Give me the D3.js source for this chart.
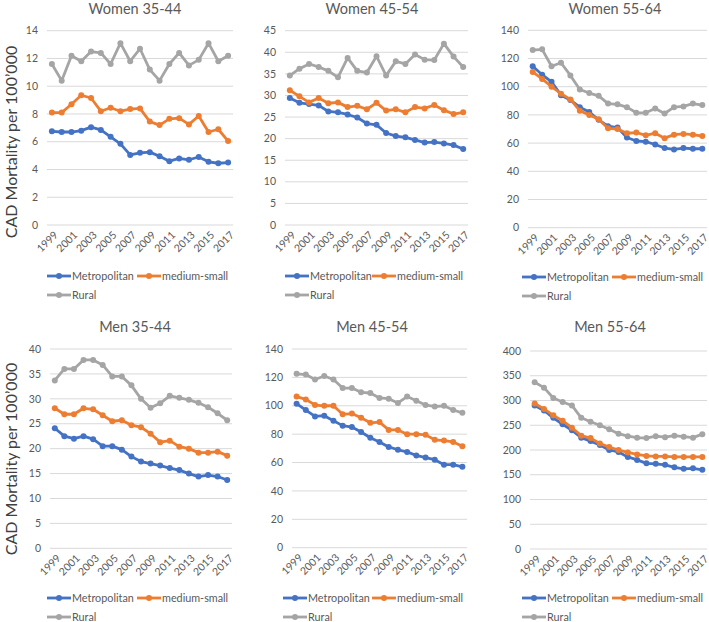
<!DOCTYPE html>
<html>
<head>
<meta charset="utf-8">
<script src="https://cdn.jsdelivr.net/npm/d3@7"></script>
<style>
  body { margin: 0; background: #fff; }
  svg { display: block; font-family: Lato, "Open Sans", sans-serif; }
</style>
</head>
<body>
<svg id="chart" width="709" height="622"></svg>
<script>
// ---------- DATA ----------
const years = d3.range(1999, 2018).map(String);
const yearTickLabels = ["1999","2001","2003","2005","2007","2009","2011","2013","2015","2017"];
const seriesNames = ["Metropolitan", "medium-small", "Rural"];
const panelTitles = ["Women 35-44", "Women 45-54", "Women 55-64", "Men 35-44", "Men 45-54", "Men 55-64"];
const yAxisTitle = "CAD Mortality  per 100’000";

const w3544Metro = [6.75,6.7,6.7,6.8,7.05,6.85,6.35,5.85,5.05,5.2,5.25,4.95,4.6,4.8,4.7,4.9,4.55,4.45,4.5];
const w3544Med   = [8.1,8.1,8.7,9.35,9.15,8.2,8.45,8.2,8.35,8.4,7.45,7.2,7.65,7.7,7.25,7.85,6.7,6.9,6.05];
const w3544Rural = [11.6,10.4,12.2,11.8,12.5,12.4,11.6,13.1,11.8,12.7,11.2,10.4,11.6,12.4,11.5,11.9,13.1,11.8,12.2];

const w4554Metro = [29.4,28.3,28.0,27.7,26.3,26.1,25.6,24.9,23.5,23.2,21.3,20.6,20.3,19.7,19.1,19.2,18.9,18.5,17.6];
const w4554Med   = [31.2,29.8,28.4,29.4,28.2,28.4,27.3,27.6,26.8,28.3,26.5,26.8,26.1,27.3,27.0,27.8,26.6,25.7,26.1];
const w4554Rural = [34.6,36.2,37.3,36.6,35.7,34.2,38.7,35.7,35.3,39.1,34.6,37.9,37.3,39.5,38.3,38.2,42.0,39.0,36.6];

const w5564Metro = [114.5,108.5,103.5,94,90.5,85.5,82,76.5,72,71,64,61.5,61,59,56.5,55.5,56.5,56,56];
const w5564Med   = [110.5,105.5,100,95,91,83,80,77,70.5,70,67,67.5,65.5,67,63.5,66,66.5,66,65];
const w5564Rural = [126,126.5,114.5,117,108,98,95.5,93.5,88,87.5,85.5,81.5,81.5,84.5,81,85.5,86,88,87];

const m3544Metro = [24.1,22.5,22.0,22.5,21.9,20.5,20.5,19.8,18.4,17.4,17.0,16.6,16.1,15.7,15.0,14.4,14.7,14.4,13.7];
const m3544Med   = [28.1,26.9,26.9,28.1,27.9,26.7,25.5,25.7,24.7,24.3,23.0,21.3,21.6,20.4,20.0,19.2,19.2,19.4,18.6];
const m3544Rural = [33.7,36.0,36.0,37.8,37.8,36.8,34.5,34.5,32.7,30.0,28.2,29.1,30.6,30.2,29.8,29.2,28.3,27.1,25.7];

const m4554Metro = [101.5,97,92.5,93,89.5,86,85,81.5,77.5,74.5,71,69,67.5,65,63.5,62,58.5,58.5,57];
const m4554Med   = [106.5,104.5,100.5,100,100,94,94.5,91.5,88,88.5,83,83,80,80,79.5,76,75.5,74.5,71.5];
const m4554Rural = [122.5,122,118.5,121,118.5,112.5,112.5,109.5,109,105.5,105,102,106.5,103.5,100.5,99.5,100,97,95];

const m5564Metro = [290,280,265,252,240,225,218,210,200,196,186,180,173,172,170,165,162,163,160];
const m5564Med   = [294,283,270,259,245,229,224,213,206,200,195,191,188,187,187,186,186,186,186];
const m5564Rural = [337,326,305,297,290,265,257,250,242,233,228,225,224,228,226,229,227,225,232];

const yMax  = [14, 45, 140, 40, 140, 400];
const yStep = [2, 5, 20, 5, 20, 50];

const panelData = [
  [w3544Metro, w3544Med, w3544Rural],
  [w4554Metro, w4554Med, w4554Rural],
  [w5564Metro, w5564Med, w5564Rural],
  [m3544Metro, m3544Med, m3544Rural],
  [m4554Metro, m4554Med, m4554Rural],
  [m5564Metro, m5564Med, m5564Rural]
];

// ---------- LAYOUT ----------
const colors = ["#4472C4", "#ED7D31", "#A5A5A5"];
const layout = [
  {x0: 47,  x1: 233, yTop: 30.7,  yBot: 225,   titleX: 135, titleY: 9,   legX: 47,  legOX: 137, legY1: 276, legY2: 295},
  {x0: 285, x1: 468, yTop: 30.7,  yBot: 225,   titleX: 372, titleY: 9,   legX: 285, legOX: 372, legY1: 276, legY2: 295},
  {x0: 528, x1: 707, yTop: 30.3,  yBot: 227.7, titleX: 615, titleY: 9,   legX: 522, legOX: 612, legY1: 277, legY2: 296},
  {x0: 50,  x1: 232, yTop: 349,   yBot: 548.3, titleX: 135, titleY: 327, legX: 47,  legOX: 137, legY1: 598, legY2: 617},
  {x0: 292, x1: 467, yTop: 349,   yBot: 547.7, titleX: 372, titleY: 327, legX: 283, legOX: 372, legY1: 598, legY2: 617},
  {x0: 530, x1: 707, yTop: 351,   yBot: 549,   titleX: 610, titleY: 327, legX: 522, legOX: 612, legY1: 598, legY2: 617}
];

const svg = d3.select("#chart");
const textColor = "#595959";

panelData.forEach((series, i) => {
  const L = layout[i];
  const g = svg.append("g");
  const x = d3.scalePoint().domain(years).range([L.x0, L.x1]).padding(0.5);
  const y = d3.scaleLinear().domain([0, yMax[i]]).range([L.yBot, L.yTop]);
  const ticks = d3.range(0, yMax[i] + yStep[i] / 2, yStep[i]);

  // gridlines
  g.selectAll("line.grid").data(ticks).join("line")
    .attr("x1", L.x0).attr("x2", L.x1)
    .attr("y1", d => y(d)).attr("y2", d => y(d))
    .attr("stroke", "#D9D9D9").attr("stroke-width", 1);

  // y tick labels
  g.selectAll("text.yt").data(ticks).join("text")
    .attr("x", L.x0 - 9).attr("y", d => y(d)).attr("dy", "0.35em")
    .attr("text-anchor", "end").attr("font-size", 10.5).attr("fill", textColor)
    .text(d => d);

  // x tick labels
  g.selectAll("text.xt").data(yearTickLabels).join("text")
    .attr("transform", d => `translate(${x(d) + 4},${L.yBot + 8}) rotate(-45)`)
    .attr("text-anchor", "end").attr("dy", "0.35em")
    .attr("font-size", 10.5).attr("fill", textColor)
    .text(d => d);

  // title
  g.append("text").attr("x", L.titleX).attr("y", L.titleY)
    .attr("text-anchor", "middle").attr("dy", "0.35em")
    .attr("font-size", 14.5).attr("fill", textColor)
    .text(panelTitles[i]);

  // series
  const line = d3.line().x((d, j) => x(years[j])).y(d => y(d));
  series.forEach((vals, s) => {
    g.append("path").datum(vals)
      .attr("d", line).attr("fill", "none")
      .attr("stroke", colors[s]).attr("stroke-width", 2.8)
      .attr("stroke-linejoin", "round");
    g.selectAll(null).data(vals).join("circle")
      .attr("cx", (d, j) => x(years[j])).attr("cy", d => y(d))
      .attr("r", 3).attr("fill", colors[s]);
  });

  // legend
  const legItems = [
    {name: seriesNames[0], x: L.legX,  y: L.legY1, c: colors[0]},
    {name: seriesNames[1], x: L.legOX, y: L.legY1, c: colors[1]},
    {name: seriesNames[2], x: L.legX,  y: L.legY2, c: colors[2]}
  ];
  legItems.forEach(it => {
    g.append("line").attr("x1", it.x).attr("x2", it.x + 24)
      .attr("y1", it.y).attr("y2", it.y)
      .attr("stroke", it.c).attr("stroke-width", 2.8);
    g.append("circle").attr("cx", it.x + 12).attr("cy", it.y).attr("r", 3).attr("fill", it.c);
    g.append("text").attr("x", it.x + 25).attr("y", it.y).attr("dy", "0.35em")
      .attr("font-size", 10.8).attr("fill", textColor).text(it.name);
  });
});

// y-axis titles
[142, 459].forEach(cy => {
  svg.append("text")
    .attr("transform", `translate(11,${cy}) rotate(-90)`)
    .attr("text-anchor", "middle").attr("dy", "0.35em")
    .attr("font-size", 16).attr("fill", "#404040")
    .text(yAxisTitle);
});
</script>
</body>
</html>
